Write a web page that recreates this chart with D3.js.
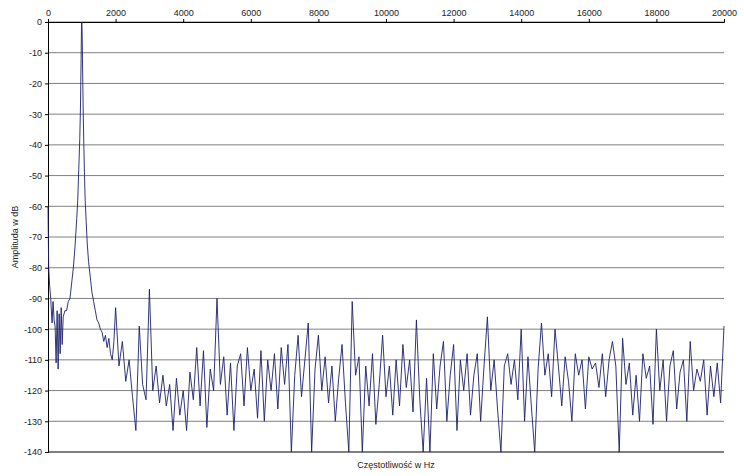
<!DOCTYPE html>
<html><head><meta charset="utf-8">
<script src="https://cdn.jsdelivr.net/npm/d3@7"></script>
<style>body{margin:0;background:#fff}text{font-family:"Liberation Sans",Arial,sans-serif}</style>
</head><body><svg id="c" width="744" height="476"></svg>
<script>
const xTicks=[0,2000,4000,6000,8000,10000,12000,14000,16000,18000,20000];
const yTicks=[0,-10,-20,-30,-40,-50,-60,-70,-80,-90,-100,-110,-120,-130,-140];
const lowFreqs=[0,20,50,80,120,150,180,210,240,270,300,330,360,390,420,450,500,550,600,650,700,750,800,850,880,910,940,960,980,990,1000,1010,1020,1040,1060,1080,1100,1130,1160,1200,1250,1300,1350,1400,1450,1500,1550,1600,1650,1700,1750,1800,1850,1900,1950];
const lowAmps=[-60,-80,-86,-90,-98,-91,-97,-99,-111,-94,-113,-95,-108,-93,-105,-96,-94,-94,-91,-90,-85,-80,-73,-64,-58,-48,-38,-28,-12,-2,0,-3,-12,-28,-40,-50,-58,-65,-72,-78,-83,-88,-91,-94,-97,-98,-100,-101,-104,-102,-106,-103,-108,-110,-104];
const highStart=2000, highStep=100;
const highAmps=[-93,-112,-104,-117,-110,-122,-133,-99,-118,-123,
-87,-120,-112,-124,-115,-125,-118,-133,-116,-128,
-120,-133,-114,-123,-106,-125,-107,-132,-113,-120,
-90,-118,-109,-128,-111,-133,-112,-108,-125,-106,
-120,-113,-129,-107,-130,-110,-120,-108,-126,-106,
-118,-105,-140,-115,-102,-122,-110,-98,-140,-113,
-102,-120,-109,-124,-112,-130,-116,-105,-124,-140,
-91,-115,-109,-140,-112,-125,-108,-131,-118,-102,
-122,-112,-128,-110,-125,-105,-119,-110,-127,-97,
-123,-140,-116,-140,-108,-126,-112,-104,-130,-115,
-105,-133,-110,-120,-108,-128,-115,-108,-130,-112,
-96,-120,-110,-126,-140,-112,-108,-118,-110,-123,
-100,-130,-109,-125,-140,-113,-98,-115,-108,-122,
-100,-112,-125,-109,-117,-130,-108,-115,-110,-126,
-109,-113,-111,-119,-108,-122,-110,-104,-112,-140,
-103,-118,-111,-128,-115,-130,-108,-116,-112,-131,
-100,-120,-110,-130,-112,-107,-126,-114,-110,-130,
-104,-120,-113,-117,-110,-128,-112,-122,-111,-124,-99];

const L=48,R=724,T=22,B=452;
const svg=d3.select("#c");
const x=d3.scaleLinear().domain([0,20000]).range([L,R]);
const y=d3.scaleLinear().domain([-140,0]).range([B,T]);
// grid
svg.append("g").selectAll("line").data(yTicks).join("line")
 .attr("x1",L).attr("x2",R).attr("y1",d=>y(d)).attr("y2",d=>y(d))
 .attr("stroke",d=>d===-140?"#000":"#808080").attr("stroke-width",1);
const gx=svg.append("g").attr("transform",`translate(0,${T})`)
 .call(d3.axisTop(x).tickValues(xTicks).tickSize(3).tickFormat(d=>d));
gx.select(".domain").attr("stroke","#000");
gx.selectAll("text").attr("font-size",9).attr("fill","#222");
const gy=svg.append("g").attr("transform",`translate(${L},0)`)
 .call(d3.axisLeft(y).tickValues(yTicks).tickSize(3).tickFormat(d=>d));
gy.select(".domain").attr("stroke","#000");
gy.selectAll("text").attr("font-size",9).attr("fill","#222");
const pts=lowFreqs.map((f,i)=>[f,lowAmps[i]]).concat(highAmps.map((a,i)=>[highStart+i*highStep,a]));
svg.append("path").datum(pts).attr("fill","none").attr("stroke","#1c1f6b").attr("stroke-width",0.9)
 .attr("d",d3.line().x(d=>x(d[0])).y(d=>y(d[1])));
svg.append("text").attr("x",396).attr("y",468).attr("text-anchor","middle").attr("font-size",9).attr("fill","#222").text("Częstotliwość w Hz");
svg.append("text").attr("transform","translate(18,237) rotate(-90)").attr("text-anchor","middle").attr("font-size",9).attr("fill","#222").text("Amplituda w dB");
</script></body></html>
